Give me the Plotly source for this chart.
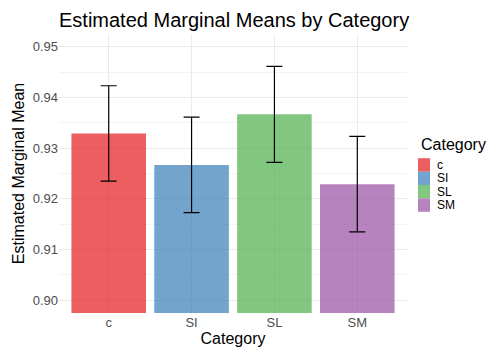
import plotly.graph_objects as go

categories = ["c", "SI", "SL", "SM"]
means = [0.9329, 0.9267, 0.9367, 0.9229]
lower = [0.9235, 0.9173, 0.9272, 0.9135]
upper = [0.9423, 0.9361, 0.9461, 0.9323]
colors = ["rgba(228,26,28,0.7)", "rgba(55,126,184,0.7)",
          "rgba(77,175,74,0.7)", "rgba(152,78,163,0.7)"]
y_ticks = [0.90, 0.91, 0.92, 0.93, 0.94, 0.95]

FONT = "Liberation Sans, Arial, sans-serif"
W, H = 489, 347
ML, MR, MT, MB = 59, 82, 34, 34
PW, PH = W - ML - MR, H - MT - MB


def px2paper(px, py):
    return (px - ML) / PW, (H - MB - py) / PH


fig = go.Figure()
for cat, m, lo, hi, col in zip(categories, means, lower, upper, colors):
    fig.add_trace(go.Bar(
        x=[cat], y=[m], name=cat,
        marker=dict(color=col, line=dict(width=0)),
        width=0.9, showlegend=False,
        error_y=dict(type="data", symmetric=False,
                     array=[hi - m], arrayminus=[m - lo],
                     color="black", thickness=1.2, width=8),
    ))

# manual legend (ggplot-like compact keys)
shapes = []
annotations = []
lx, ly = px2paper(419, 144)
annotations.append(dict(text="Category", x=lx, y=ly, xref="paper", yref="paper",
                        xanchor="left", yanchor="middle", showarrow=False,
                        font=dict(size=16, color="black", family=FONT)))
key_h = 13.4
key_top = 185 - 2 * key_h
for i, (cat, col) in enumerate(zip(categories, colors)):
    y0 = key_top + i * key_h
    x0p, y0p = px2paper(418, y0 + key_h)
    x1p, y1p = px2paper(430, y0)
    shapes.append(dict(type="rect", xref="paper", yref="paper",
                       x0=x0p, x1=x1p, y0=y0p, y1=y1p,
                       fillcolor=col, line=dict(width=0), layer="above"))
    tx, ty = px2paper(435, y0 + key_h / 2)
    annotations.append(dict(text=cat, x=tx, y=ty, xref="paper", yref="paper",
                            xanchor="left", yanchor="middle", showarrow=False,
                            font=dict(size=12, color="black", family=FONT)))

fig.update_layout(
    width=W, height=H,
    margin=dict(l=ML, r=MR, t=MT, b=MB),
    paper_bgcolor="white", plot_bgcolor="white",
    font=dict(family=FONT, color="#4D4D4D", size=13),
    title=dict(text="Estimated Marginal Means by Category",
               font=dict(size=20, color="black", family=FONT),
               x=0, xref="paper", xanchor="left",
               y=1 - 20 / H, yref="container", yanchor="middle"),
    bargap=0.1,
    showlegend=False,
    shapes=shapes,
    annotations=annotations,
)
fig.update_xaxes(
    title=dict(text="Category", font=dict(size=16, color="black"), standoff=4),
    automargin=False,
    range=[-0.6, 3.6], showgrid=True, gridcolor="#EBEBEB", gridwidth=1,
    ticks="", showline=False, zeroline=False,
    tickfont=dict(size=13, color="#4D4D4D"),
)
fig.update_yaxes(
    title=dict(text="Estimated Marginal Mean", font=dict(size=16, color="black"), standoff=4),
    automargin=False,
    range=[0.8975, 0.9525], tickvals=y_ticks,
    ticktext=[f"{v:.2f}" for v in y_ticks],
    showgrid=True, gridcolor="#EBEBEB", gridwidth=1,
    minor=dict(tickvals=[0.905, 0.915, 0.925, 0.935, 0.945], showgrid=True,
               gridcolor="#F3F3F3", gridwidth=0.6),
    ticks="", showline=False, zeroline=False,
    tickfont=dict(size=13, color="#4D4D4D"),
)

fig.write_html("out.html")
